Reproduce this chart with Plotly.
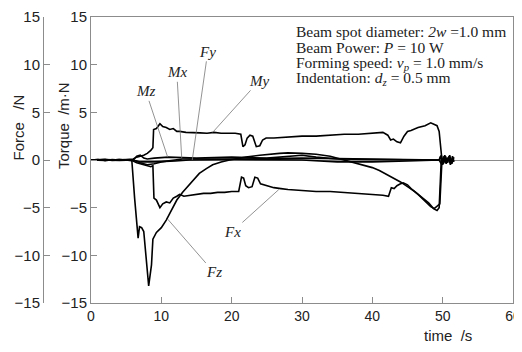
import plotly.graph_objects as go

# ---------------- data ----------------
my_t = [0, 1, 2, 3, 4, 5, 6, 6.5, 7, 7.5, 8, 8.5, 8.8, 8.9, 9.3, 9.8, 10.2, 10.7, 11.2, 11.7, 12.2, 12.6,
        13.5, 14.5, 15.5, 16.5, 17.5, 18.5, 19.5, 20.5, 21.3, 21.6, 21.9, 22.2, 22.6, 23.0, 23.5, 24.0, 24.4,
        24.9, 26, 28, 30, 32, 34, 36, 38, 40, 41.5, 42.2, 42.6, 43.0, 43.5, 44.0, 44.5, 45.0, 45.5, 46.5,
        47.5, 48.3, 48.7, 49.2, 49.5, 49.7, 49.9, 50.3, 51, 51.6]
my_v = [0, 0.05, -0.05, 0.05, 0, 0.05, 0.1, 0.3, 0.4, 0.5, 0.7, 1.0, 1.3, 3.2, 3.3, 3.8, 3.5, 3.4, 3.2, 3.3, 3.0, 3.0,
        2.9, 2.9, 2.85, 2.8, 2.9, 2.8, 2.8, 2.8, 2.7, 1.4, 1.6, 2.3, 2.6, 2.5, 1.4, 1.5, 2.1,
        2.3, 2.3, 2.4, 2.5, 2.5, 2.6, 2.7, 2.7, 2.8, 2.9, 2.6, 2.1, 2.2, 1.9, 1.8, 2.5, 3.0, 3.1, 3.4,
        3.6, 3.9, 3.8, 3.6, 3.0, 1.0, 0.0, 0.2, -0.1, 0.1]

fx_t = [0, 1, 2, 3, 4, 5, 6, 6.5, 7, 7.5, 8, 8.5, 8.8, 8.95, 9.3, 9.8, 10.2, 10.7, 11.2, 11.7, 12.2, 12.6, 13.2,
        14, 15, 16, 17, 18, 19, 20, 21, 21.4, 21.7, 22.0, 22.4, 22.9, 23.3, 23.7, 24.1, 24.6, 25.2, 26, 27,
        28, 30, 32, 34, 36, 38, 40, 41.5, 42.3, 42.7, 43.1, 43.5, 44.0, 44.4, 45.0, 45.5, 46.5, 47.5, 48.3,
        48.8, 49.3, 49.6, 49.9, 50.3, 51, 51.6]
fx_v = [0, 0, 0.05, -0.05, 0, 0, -0.1, -0.3, -0.4, -0.5, -0.6, -0.7, -0.6, -4.0, -4.2, -5.0, -4.6, -4.4, -4.5, -4.0, -3.8, -3.6, -3.8,
        -3.7, -3.6, -3.5, -3.5, -3.4, -3.4, -3.3, -3.3, -1.8, -1.9, -2.7, -2.9, -2.8, -1.8, -1.9, -2.5, -2.6, -2.7, -2.9, -3.0,
        -3.1, -3.2, -3.3, -3.3, -3.4, -3.5, -3.6, -3.7, -3.8, -2.9, -3.0, -2.7, -2.5, -2.4, -2.6, -3.0, -3.6, -4.3, -4.9,
        -5.1, -4.8, -4.6, 0.0, -0.2, 0.1, -0.1]

fz_t = [0, 1, 2, 3, 4, 5, 5.8, 6.2, 6.7, 6.9, 7.2, 7.5, 7.9, 8.2, 8.6, 8.8, 9.3, 10, 10.7, 11.4, 12.2, 13, 14,
        15.4, 16.4, 17.3, 18.5, 19.7, 22, 24, 26.8, 28, 30, 32, 34, 35, 36, 37, 38, 39, 40, 41, 42, 43, 44, 45,
        46, 47, 48, 48.7, 49.2, 49.5, 49.8, 50.3, 51, 51.6]
fz_v = [0, 0.05, -0.05, 0, 0.05, 0, 0, -4.0, -8.2, -7.0, -7.1, -7.5, -11.0, -13.2, -11.0, -8.3, -7.6, -7.1, -6.3, -5.3, -4.2, -3.4, -2.6,
        -1.4, -0.9, -0.5, -0.2, 0.0, 0.3, 0.5, 0.7, 0.75, 0.7, 0.6, 0.4, 0.2, 0.0, -0.2, -0.4, -0.6, -0.8, -1.1, -1.5, -1.9, -2.3, -2.8,
        -3.3, -3.9, -4.5, -5.1, -5.3, -5.0, 0.0, 0.2, -0.1, 0.05]

mz_t = [0, 2, 4, 6, 6.5, 7, 7.5, 8, 9, 11, 15, 20, 25, 30, 32, 35, 40, 45, 49.5, 49.8, 50.1, 50.4, 50.7, 51.0, 51.3, 51.6]
mz_v = [0, 0.05, 0, 0, 0.4, 0.5, 0.2, 0.1, 0.2, 0.3, 0.2, 0.3, 0.2, 0.5, 0.3, 0.1, 0.05, 0, 0, 0.5, -0.4, 0.4, -0.3, 0.5, -0.4, 0.3]

mx_t = [0, 2, 4, 6, 7, 8, 9, 10, 13, 20, 30, 40, 45, 49.5, 49.9, 50.2, 50.5, 50.8, 51.1, 51.4, 51.6]
mx_v = [0, -0.05, 0.05, 0, -0.3, -0.5, -0.4, -0.2, 0.1, 0.1, 0.2, 0.1, 0, 0, -0.5, 0.4, -0.4, 0.3, -0.5, 0.4, -0.2]

fy_t = [0, 2, 4, 6, 7, 9, 12, 14, 20, 30, 35, 40, 45, 49.5, 49.7, 50.0, 50.3, 50.6, 50.9, 51.2, 51.5]
fy_v = [0, 0.05, -0.05, 0, -0.2, -0.2, -0.1, 0, 0.05, 0, -0.2, -0.2, -0.1, 0, 0.4, -0.5, 0.5, -0.3, 0.4, -0.4, 0.2]

x_ticks = [0, 10, 20, 30, 40, 50, 60]
y_ticks = [-15, -10, -5, 0, 5, 10, 15]

# label: (text, label_t, label_v, point_t, point_v)
labels = [
    ("Fy", 16.6, 11.35, 14.4, 0.0),
    ("Mx", 12.2, 9.2, 12.9, 0.2),
    ("Mz", 7.8, 7.2, 10.9, 0.3),
    ("My", 23.9, 8.3, 17.3, 2.9),
    ("Fx", 20.1, -7.5, 26.7, -3.1),
    ("Fz", 17.5, -11.8, 10.9, -6.2),
]

info_lines = [
    "Beam spot diameter: <i>2w</i> =1.0 mm",
    "Beam Power: <i>P</i> = 10 W",
    "Forming speed: <i>v<sub>p</sub></i> = 1.0 mm/s",
    "Indentation: <i>d<sub>z</sub></i> = 0.5 mm",
]

# ---------------- figure ----------------
# page body adds an 8px margin on every side; work in reference pixel coordinates
OFF = 8
W, H = 522 - OFF, 352 - 2 * OFF
ML, MR, MT, MB = 40 - OFF, 9, 17 - OFF, 41
PW = W - ML - MR
PH = H - MT - MB


def px_x(px):
    return (px - OFF - ML) / PW


def px_y(py):
    return (H - MB - (py - OFF)) / PH


fig = go.Figure()
line_style = dict(color="black", width=1.6)
for t, v in [(fz_t, fz_v), (fx_t, fx_v), (my_t, my_v), (mz_t, mz_v), (mx_t, mx_v), (fy_t, fy_v)]:
    fig.add_trace(go.Scatter(x=t, y=v, mode="lines", line=line_style, showlegend=False,
                             hoverinfo="skip"))
fig.add_trace(go.Scatter(x=[None], y=[None], yaxis="y2", mode="lines", showlegend=False))

axcol = "#8c8c8c"
tickfont = dict(family="Liberation Sans, Arial", size=15, color="#222")
xtickfont = dict(family="Liberation Sans, Arial", size=14, color="#222")

fig.update_layout(
    width=W, height=H,
    margin=dict(l=ML, r=MR, t=MT, b=MB, autoexpand=False),
    paper_bgcolor="white", plot_bgcolor="white",
    xaxis=dict(domain=[px_x(91), 1], range=[0, 60], tickvals=x_ticks, ticks="inside", ticklen=6,
               tickcolor=axcol, showline=True, linecolor=axcol, linewidth=1, mirror=True,
               showgrid=False, zeroline=False, tickfont=xtickfont, automargin=False,
               ticklabeloverflow="allow"),
    yaxis=dict(range=[-15, 15], tickvals=y_ticks, ticks="inside", ticklen=6, tickcolor=axcol,
               showline=True, linecolor=axcol, linewidth=1, mirror=True, showgrid=False,
               zeroline=True, zerolinecolor=axcol, zerolinewidth=1, tickfont=tickfont,
               automargin=False, ticklabeloverflow="allow"),
    yaxis2=dict(range=[-15, 15], tickvals=y_ticks, ticks="inside", ticklen=6, tickcolor=axcol,
                showline=True, linecolor=axcol, linewidth=1, overlaying="y", anchor="free",
                position=px_x(43), showgrid=False, zeroline=False, tickfont=tickfont, side="left",
                automargin=False, ticklabeloverflow="allow"),
)

ann = []
for text, lt, lv, pt, pv in labels:
    ann.append(dict(x=pt, y=pv, xref="x", yref="y", ax=lt, ay=lv, axref="x", ayref="y",
                    text="<i>%s</i>" % text, showarrow=True, arrowhead=0, arrowwidth=0.8,
                    arrowcolor="#777", standoff=0, startstandoff=0,
                    font=dict(family="Liberation Serif, Times New Roman", size=15, color="#222")))

for i, s in enumerate(info_lines):
    ann.append(dict(x=px_x(294), y=px_y(32 + 15.5 * i), xref="paper", yref="paper", text=s,
                    showarrow=False, xanchor="left", yanchor="middle",
                    font=dict(family="Liberation Serif, Times New Roman", size=15.5, color="#222")))

title_font = dict(family="Liberation Sans, Arial", size=15, color="#222")
ann.append(dict(x=px_x(17.5), y=px_y(128), xref="paper", yref="paper", text="Force\u00a0\u00a0\u00a0/N",
                textangle=-90, showarrow=False, font=title_font, xanchor="center", yanchor="middle"))
ann.append(dict(x=px_x(63), y=px_y(126), xref="paper", yref="paper", text="Torque\u00a0\u00a0/m\u00b7N",
                textangle=-90, showarrow=False, font=title_font, xanchor="center", yanchor="middle"))
ann.append(dict(x=px_x(448), y=px_y(335), xref="paper", yref="paper", text="time\u00a0\u00a0/s",
                showarrow=False, font=title_font, xanchor="center", yanchor="middle"))
fig.update_layout(annotations=ann)

fig.write_html("out.html")
